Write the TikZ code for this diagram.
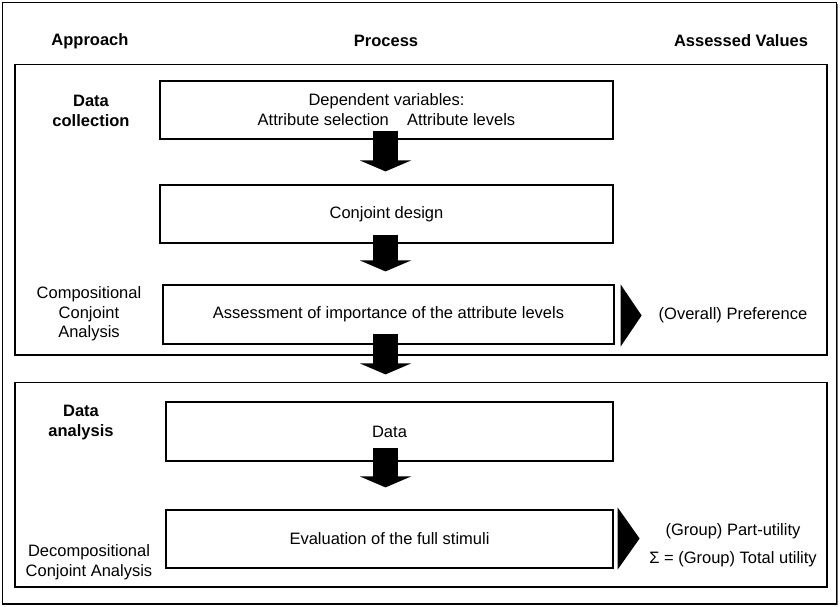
\documentclass[tikz,border=0pt]{standalone}
\usepackage{fontspec}
\setmainfont{Liberation Sans}
\usetikzlibrary{calc,arrows.meta,shadows}

\begin{document}
\begin{tikzpicture}[x=1pt,y=1pt,
  font=\fontsize{16.5}{20}\selectfont,
  frame/.style={draw=black, line width=1.2pt, fill=white,
    general shadow={fill=black!55, shadow xshift=1.3pt, shadow yshift=-1.3pt}},
  procbox/.style={frame, minimum height=58pt, inner sep=0pt, align=center},
  lbl/.style={align=center, inner sep=0pt},
  head/.style={lbl, font=\fontsize{16.5}{20}\selectfont\bfseries},
  flow/.style={line width=25pt, -{Triangle[width=51pt,length=11pt]}},
  marker/.style={fill=black}
]
\useasboundingbox (0,0) rectangle (840,606);

% outer frame and the two phase panels
\draw[frame] (2.5,2) rectangle (836.5,603.5);
\draw[frame] (15,251) rectangle (827,541.5);
\draw[frame] (15,19) rectangle (827,223.5);

% column headings
\node[head] (hApp) at (90,565) {Approach};
\node[head] (hProc) at (386,565) {Process};
\node[head] (hVal) at (741,565) {Assessed Values};

% process steps
\node[procbox, minimum width=453pt] (b1) at (386.5,496)
  {Dependent variables:\\Attribute selection\hspace{1.1em}Attribute levels};
\node[procbox, minimum width=453pt] (b2) at (386.5,392) {Conjoint design};
\node[procbox, minimum width=451pt, minimum height=59pt] (b3) at (388.5,291.5)
  {Assessment of importance of the attribute levels};
\node[procbox, minimum width=447pt, minimum height=59pt] (b4) at (389.5,174.5) {Data};
\node[procbox, minimum width=447pt] (b5) at (389.5,67) {Evaluation of the full stimuli};

% approach labels
\node[head] (lColl) at (91,495.5) {Data\\collection};
\node[lbl, font=\fontsize{16.5}{19.5}\selectfont] (lComp) at (89,292)
  {Compositional\\Conjoint\\Analysis};
\node[head] (lAna) at (81,183) {Data\\analysis};
\node[lbl, font=\fontsize{16.5}{19.5}\selectfont] (lDec) at (89,44)
  {Decompositional\\Conjoint Analysis};

% assessed values
\node[lbl] (vPref) at (733,291) {(Overall) Preference};
\node[lbl] (vUtil) at (733,61) {(Group) Part-utility\\[8pt]Σ = (Group) Total utility};

% flow arrows between the steps
\coordinate (ax) at (385.5,0);
\draw[flow] ($(b1.south -| ax)+(0,9)$) -- ($(b2.north -| ax)+(0,13)$);
\draw[flow] ($(b2.south -| ax)+(0,9)$) -- ($(b3.north -| ax)+(0,13)$);
\draw[flow] ($(b3.south -| ax)+(0,11)$) -- ($(b4.north -| ax)+(0,27)$);
\draw[flow] ($(b4.south -| ax)+(0,14)$) -- ($(b5.north -| ax)+(0,22)$);

% result markers
\fill[marker] ($(b3.north east)+(6,0)$) -- ($(b3.south east)+(6,-2)$)
  -- ($(b3.east)+(27,-1)$) -- cycle;
\fill[marker] ($(b5.north east)+(4,2)$) -- ($(b5.south east)+(4,-1)$)
  -- ($(b5.east)+(26,0.5)$) -- cycle;
\end{tikzpicture}
\end{document}
